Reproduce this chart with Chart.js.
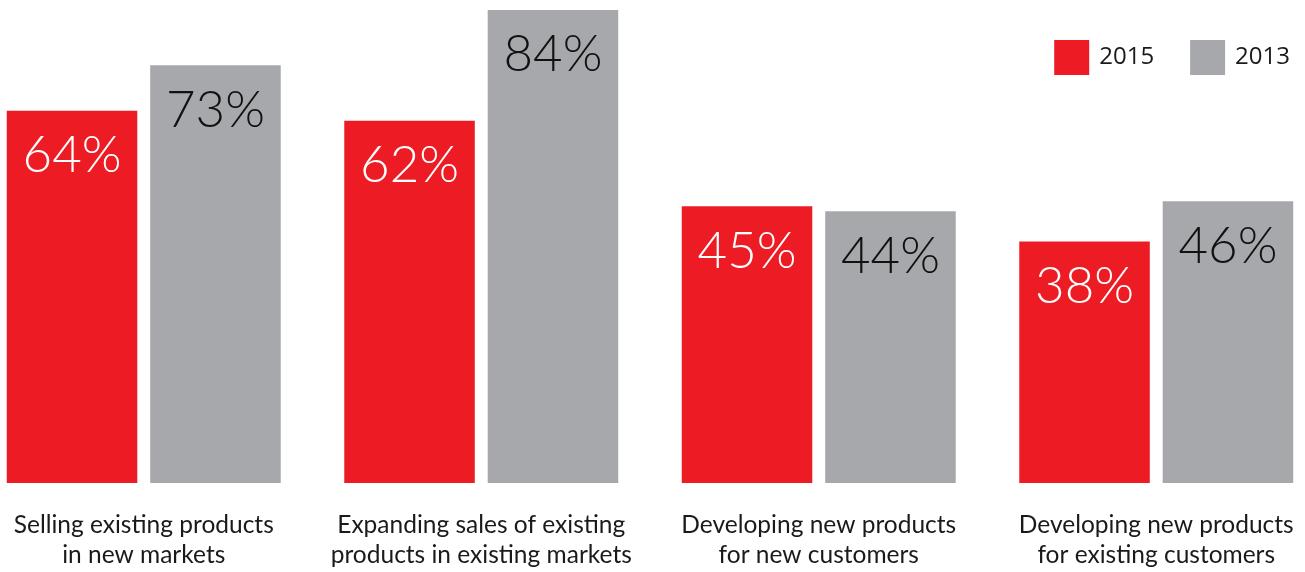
<!DOCTYPE html>
<html>
<head>
    <script src="https://cdn.jsdelivr.net/npm/chart.js@4.4.1/dist/chart.umd.min.js"></script>
    <style>
        html, body {
            margin: 0;
            padding: 0;
            background: #ffffff;
            overflow: hidden;
        }
        .chart-wrap {
            position: absolute;
            left: -25px;
            top: 0;
            width: 1350px;
            height: 572px;
        }
    </style>
</head>
<body>
    <div class="chart-wrap">
        <canvas id="growthChart"></canvas>
    </div>

    <script>
        // Growth strategies, share of respondents
        const categories = [
            ['Selling existing products', 'in new markets'],
            ['Expanding sales of existing', 'products in existing markets'],
            ['Developing new products', 'for new customers'],
            ['Developing new products', 'for existing customers']
        ];
        const years = ['2015', '2013'];
        const values2015 = [64, 62, 45, 38];
        const values2013 = [73, 84, 44, 46];

        const RED = '#ED1C24';
        const GREY = '#A7A8AC';
        const Y_MIN = -10;
        const Y_MAX = 84;

        // writes the percentage inside the top of each bar
        const valueLabels = {
            id: 'valueLabels',
            afterDatasetsDraw(chart) {
                const ctx = chart.ctx;
                ctx.save();
                ctx.font = '300 51px Lato, "Open Sans", sans-serif';
                ctx.textAlign = 'center';
                ctx.textBaseline = 'middle';
                chart.data.datasets.forEach((ds, di) => {
                    const meta = chart.getDatasetMeta(di);
                    ctx.fillStyle = di === 0 ? '#ffffff' : '#111111';
                    meta.data.forEach((bar, i) => {
                        ctx.fillText(ds.data[i] + '%', bar.x, bar.y + 45);
                    });
                });
                ctx.restore();
            }
        };

        // square swatches in the top right corner, laid out from the right edge
        const cornerLegend = {
            id: 'cornerLegend',
            afterDraw(chart) {
                const ctx = chart.ctx;
                const box = 35, textGap = 10, itemGap = 36;
                const top = 40;
                ctx.save();
                ctx.font = '24px "Open Sans", sans-serif';
                ctx.textBaseline = 'middle';
                ctx.textAlign = 'left';
                let x = chart.width - 35;
                const items = chart.data.datasets.slice().reverse();
                items.forEach((ds) => {
                    const w = ctx.measureText(ds.label).width;
                    x -= w;
                    ctx.fillStyle = '#1a1a1a';
                    ctx.fillText(ds.label, x, top + box / 2);
                    x -= textGap + box;
                    ctx.fillStyle = ds.backgroundColor;
                    ctx.fillRect(x, top, box, box);
                    x -= itemGap;
                });
                ctx.restore();
            }
        };

        new Chart(document.getElementById('growthChart'), {
            type: 'bar',
            data: {
                labels: categories,
                datasets: [
                    {
                        label: years[0],
                        data: values2015,
                        backgroundColor: RED,
                        borderWidth: 0,
                        base: Y_MIN
                    },
                    {
                        label: years[1],
                        data: values2013,
                        backgroundColor: GREY,
                        borderWidth: 0,
                        base: Y_MIN
                    }
                ]
            },
            options: {
                responsive: true,
                maintainAspectRatio: false,
                animation: false,
                categoryPercentage: 0.85,
                barPercentage: 0.91,
                layout: {
                    padding: { top: 10, bottom: 0, left: 0, right: 0 }
                },
                scales: {
                    x: {
                        grid: { display: false },
                        border: { display: false },
                        afterFit(axis) {
                            axis.height = 89;
                        },
                        ticks: {
                            autoSkip: false,
                            maxRotation: 0,
                            padding: 19,
                            color: '#1a1a1a',
                            font: { family: 'Lato, "Open Sans", sans-serif', size: 24.5, lineHeight: '30px' }
                        }
                    },
                    y: {
                        display: false,
                        min: Y_MIN,
                        max: Y_MAX
                    }
                },
                plugins: {
                    legend: { display: false },
                    tooltip: { enabled: false }
                }
            },
            plugins: [valueLabels, cornerLegend]
        });
    </script>
</body>
</html>
